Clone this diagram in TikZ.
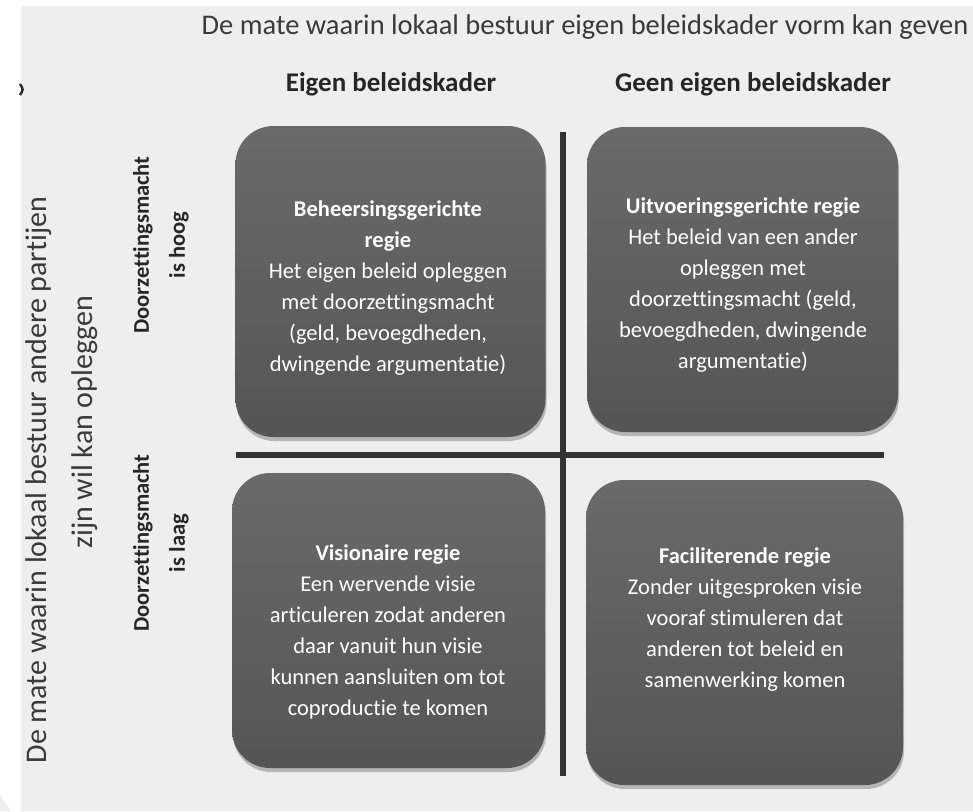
\documentclass[tikz,border=0pt]{standalone}
\usepackage{fontspec}
\setmainfont{Carlito}[Ligatures={NoCommon}]
\usetikzlibrary{shadows}
\definecolor{bg}{HTML}{EEEEEE}
\definecolor{boxtop}{HTML}{6A6A6A}
\definecolor{boxmid}{HTML}{5D5D5D}
\definecolor{boxbot}{HTML}{555555}
\definecolor{axis}{HTML}{333333}
\definecolor{ink}{HTML}{3A3A3A}
\definecolor{headink}{HTML}{262626}
\begin{document}
\begin{tikzpicture}[x=1pt,y=-1pt,
  quad/.style={rectangle, rounded corners=38pt, draw=none,
    top color=boxtop, middle color=boxmid, bottom color=boxbot,
    drop shadow={opacity=0.35, shadow xshift=1pt, shadow yshift=-4pt, fill=black!70},
    inner sep=0pt},
  boxtext/.style={text=white, align=center, font=\fontsize{22.5}{31}\selectfont, inner sep=0pt},
  header/.style={text=headink, font=\bfseries\fontsize{27}{30}\selectfont, inner sep=0pt},
  rowlabel/.style={text=headink, rotate=90, align=center, font=\bfseries\fontsize{22.5}{36}\selectfont, inner sep=0pt},
  sidelabel/.style={text=ink, rotate=90, font=\fontsize{30}{34}\selectfont, inner sep=0pt},
  axisline/.style={draw=axis, line width=6pt}]
\useasboundingbox (0,0) rectangle (973,811);
\fill[white] (0,0) rectangle (973,811);
\fill[bg] (21,6) rectangle (973,811);
\fill[bg] (0,795) -- (11,811) -- (0,811) -- cycle;
\draw[line width=2.4pt, black!85] (20,84) .. controls (23.5,89.5) .. (20,95);

% title and headers
\node[text=ink, font=\fontsize{28.5}{32}\selectfont, inner sep=0pt] (title) at (585,27) {De mate waarin lokaal bestuur eigen beleidskader vorm kan geven};
\node[header] (h1) at (391,84) {Eigen beleidskader};
\node[header] (h2) at (753,84) {Geen eigen beleidskader};

% side labels
\node[sidelabel] (s1) at (39,480) {De mate waarin lokaal bestuur andere partijen};
\node[sidelabel] (s2) at (85,422) {zijn wil kan opleggen};
\node[rowlabel] (r1) at (161,245) {Doorzettingsmacht\\is hoog};
\node[rowlabel] (r2) at (161,543) {Doorzettingsmacht\\is laag};

% boxes
\node[quad, minimum width=310pt, minimum height=311pt] (tl) at (390.5,281.5) {};
\node[quad, minimum width=311pt, minimum height=305pt] (tr) at (742.5,279.5) {};
\node[quad, minimum width=313pt, minimum height=295pt] (bl) at (388.5,620.5) {};
\node[quad, minimum width=317pt, minimum height=305pt] (br) at (744.5,632.5) {};

% axes
\coordinate (vtop) at (563,132);
\coordinate (vbot) at (563,776);
\coordinate (hl) at (236,455);
\coordinate (hr) at (884,455);
\draw[axisline] (vtop) -- (vbot);
\draw[axisline] (hl) -- (hr);

% box texts
\node[boxtext] (tltext) at (388,288) {\textbf{Beheersingsgerichte}\\\textbf{regie}\\Het eigen beleid opleggen\\met doorzettingsmacht\\(geld, bevoegdheden,\\dwingende argumentatie)};
\node[boxtext] (trtext) at (743,285) {\textbf{Uitvoeringsgerichte regie}\\Het beleid van een ander\\opleggen met\\doorzettingsmacht (geld,\\bevoegdheden, dwingende\\argumentatie)};
\node[boxtext] (bltext) at (388,632) {\textbf{Visionaire regie}\\Een wervende visie\\articuleren zodat anderen\\daar vanuit hun visie\\kunnen aansluiten om tot\\coproductie te komen};
\node[boxtext] (brtext) at (745,620) {\textbf{Faciliterende regie}\\Zonder uitgesproken visie\\vooraf stimuleren dat\\anderen tot beleid en\\samenwerking komen};
\end{tikzpicture}
\end{document}
